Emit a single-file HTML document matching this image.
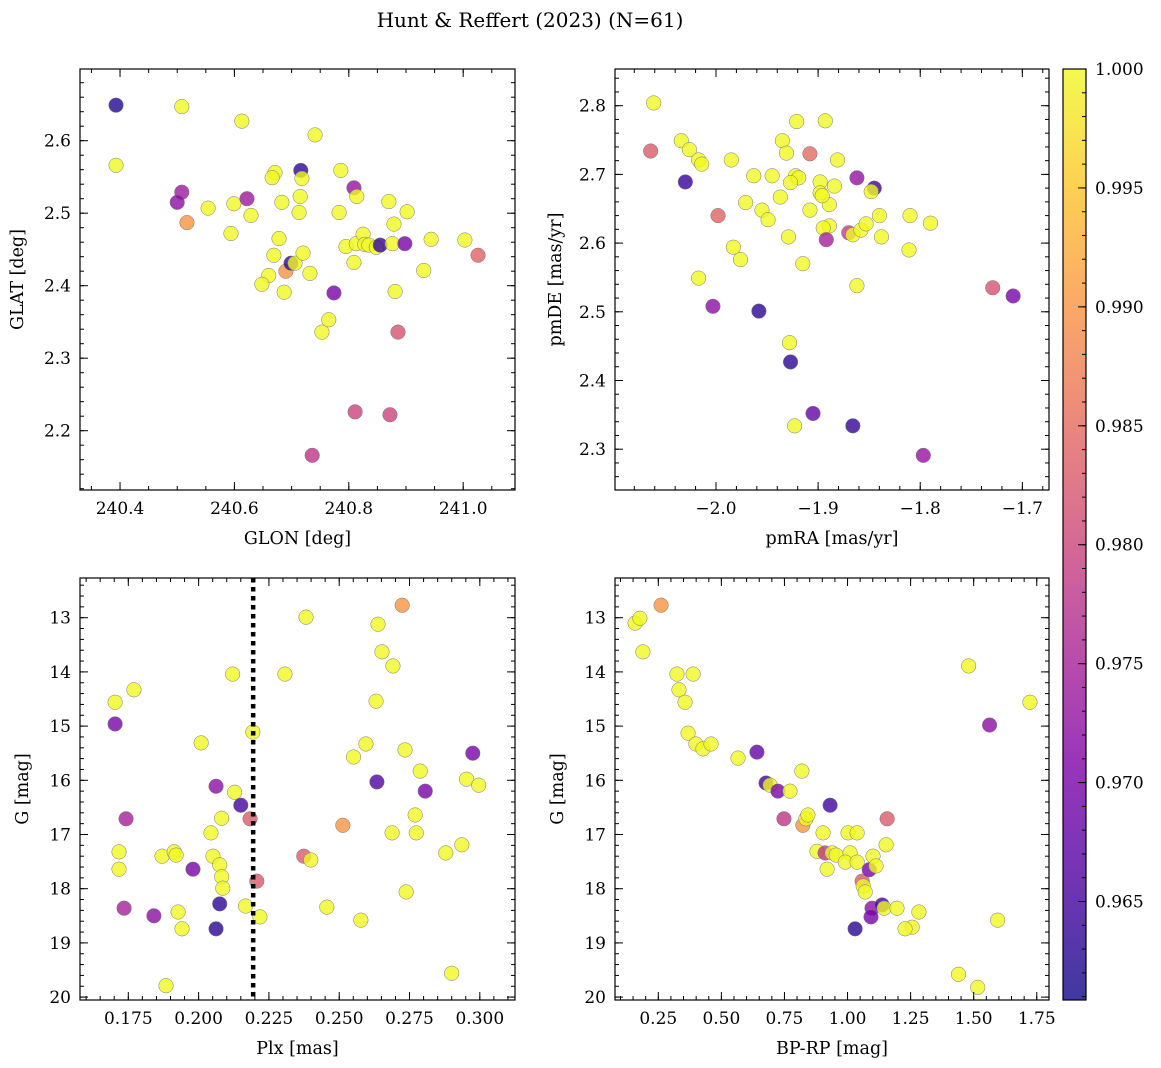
<!DOCTYPE html>
<html><head><meta charset="utf-8">
<style>
html,body{margin:0;padding:0;background:#fff;}
svg{display:block;font-family:"DejaVu Serif","Liberation Serif",serif;}
</style></head>
<body>
<svg id="fig" width="1161" height="1068" viewBox="0 0 1161 1068" xmlns="http://www.w3.org/2000/svg">
<defs>
<linearGradient id="cgrad" x1="0" y1="1" x2="0" y2="0">
<stop offset="0" stop-color="#0d0887"/><stop offset="0.125" stop-color="#4c02a1"/><stop offset="0.25" stop-color="#7e03a8"/><stop offset="0.375" stop-color="#a92395"/><stop offset="0.5" stop-color="#cc4778"/><stop offset="0.625" stop-color="#e66c5c"/><stop offset="0.75" stop-color="#f89540"/><stop offset="0.875" stop-color="#fdc527"/><stop offset="1" stop-color="#f0f921"/>
</linearGradient>
</defs>
<text x="530" y="27" font-size="20" text-anchor="middle">Hunt &amp; Reffert (2023) (N=61)</text>
</svg>
<script>
// ---- data (value arrays) ----
const p1Glon=[240.393,240.393,240.508,240.500,240.517,240.508,240.554,240.613,240.599,240.622,240.629,240.594,240.671,240.666,240.683,240.678,240.669,240.660,240.648,240.687,240.690,240.699,240.706,240.713,240.716,240.718,240.715,240.720,240.732,240.741,240.753,240.765,240.774,240.786,240.783,240.795,240.809,240.809,240.814,240.813,240.811,240.736,240.825,240.828,240.835,240.848,240.855,240.870,240.879,240.876,240.898,240.902,240.881,240.886,240.872,240.944,240.931,241.003,241.026];
const p1Glat=[2.649,2.566,2.529,2.515,2.487,2.647,2.507,2.627,2.513,2.520,2.497,2.472,2.556,2.549,2.515,2.465,2.442,2.414,2.402,2.391,2.420,2.431,2.431,2.501,2.559,2.548,2.523,2.445,2.417,2.608,2.336,2.353,2.390,2.559,2.501,2.454,2.432,2.535,2.523,2.458,2.226,2.166,2.471,2.457,2.456,2.453,2.456,2.516,2.485,2.458,2.458,2.502,2.392,2.336,2.222,2.464,2.421,2.463,2.442];
const p1Prob=[.9625,1,.974,.972,.990,1,1,1,1,.974,1,1,1,1,1,1,1,1,1,1,.990,.964,1,1,.963,1,1,1,1,1,1,1,.970,1,1,1,1,.973,1,1,.980,.978,1,1,1,1,.964,1,1,1,.970,1,1,.982,.980,1,1,1,.984];

const p2PmRA=[-2.061,-2.064,-2.034,-2.026,-2.017,-2.014,-2.030,-1.985,-1.963,-1.945,-1.935,-1.931,-1.908,-1.921,-1.893,-1.922,-1.919,-1.927,-1.881,-1.862,-1.845,-1.848,-1.898,-1.898,-1.884,-1.971,-1.955,-1.937,-1.949,-1.908,-1.889,-1.896,-1.889,-1.895,-1.892,-1.870,-1.866,-1.858,-1.853,-1.840,-1.838,-1.810,-1.811,-1.790,-1.998,-1.983,-1.976,-2.017,-1.915,-1.929,-1.862,-2.003,-1.958,-1.928,-1.927,-1.923,-1.905,-1.866,-1.797,-1.729,-1.709];
const p2PmDE=[2.804,2.734,2.749,2.736,2.721,2.715,2.689,2.721,2.698,2.698,2.749,2.731,2.730,2.777,2.778,2.698,2.695,2.688,2.721,2.695,2.680,2.675,2.689,2.673,2.683,2.659,2.648,2.667,2.634,2.648,2.656,2.669,2.625,2.622,2.605,2.615,2.612,2.619,2.628,2.640,2.609,2.640,2.590,2.629,2.640,2.594,2.576,2.549,2.570,2.609,2.538,2.508,2.501,2.455,2.427,2.334,2.352,2.334,2.291,2.535,2.523];
const p2Prob=[1,.983,1,1,1,1,.964,1,1,1,1,1,.985,1,1,1,1,1,1,.973,.965,1,1,1,1,1,1,1,1,1,1,1,1,1,.975,.979,1,1,1,1,1,1,1,1,.984,1,1,1,1,1,1,.972,.963,1,.963,1,.968,.964,.973,.982,.970];

const p3Plx=[.1703,.1770,.1703,.1742,.1717,.1717,.1735,.1841,.1870,.1913,.1920,.1927,.1941,.1884,.1980,.2009,.2062,.2044,.2051,.2075,.2082,.2086,.2082,.2075,.2062,.2121,.2128,.2150,.2167,.2183,.2193,.2207,.2218,.2307,.2382,.2374,.2399,.2456,.2551,.2513,.2577,.2595,.2631,.2638,.2652,.2634,.2691,.2688,.2734,.2738,.2788,.2770,.2774,.2806,.2724,.2879,.2936,.2953,.2996,.2975,.2900];
const p3G=[14.56,14.33,14.96,16.71,17.32,17.64,18.36,18.50,17.40,17.32,17.38,18.43,18.74,19.79,17.64,15.31,16.11,16.97,17.40,17.56,17.78,17.99,16.70,18.28,18.74,14.04,16.22,16.46,18.32,16.71,15.11,17.86,18.52,14.04,12.99,17.40,17.47,18.34,15.57,16.83,18.58,15.33,14.54,13.12,13.63,16.03,13.89,16.97,15.44,18.06,15.83,16.64,16.97,16.20,12.77,17.34,17.19,15.98,16.09,15.50,19.56];
const p3Prob=[1,1,.970,.975,1,1,.975,.972,1,1,1,1,1,1,.970,1,.972,1,1,1,1,1,1,.963,.963,1,1,.965,1,.983,1,.983,1,1,1,.983,1,1,1,.990,1,1,1,1,1,.966,1,1,1,1,1,1,1,.970,.990,1,1,1,1,.970,1];
const plxCut=[0.2194];

const p4Bprp=[.158,.177,.189,.261,.324,.332,.356,.388,.368,.399,.427,.459,.566,.641,.677,.693,.724,.772,.748,.819,.823,.835,.843,.879,.903,.911,.919,.931,.939,.955,1.002,1.010,.991,1.038,1.038,1.058,1.062,1.070,1.086,1.101,1.113,1.097,1.093,1.137,1.145,1.157,1.153,1.196,1.256,1.283,1.228,1.030,1.480,1.563,1.723,1.440,1.516,1.595];
const p4G=[13.10,13.01,13.63,12.77,14.04,14.33,14.56,14.04,15.13,15.33,15.42,15.33,15.59,15.48,16.05,16.09,16.20,16.20,16.71,15.83,16.83,16.71,16.64,17.31,16.97,17.34,17.64,16.46,17.34,17.38,16.97,17.34,17.51,16.97,17.51,17.86,17.95,18.06,17.65,17.40,17.58,18.36,18.52,18.30,18.36,16.71,17.19,18.36,18.71,18.43,18.74,18.74,13.89,14.98,14.56,19.58,19.82,18.58];
const p4Prob=[1,1,1,.990,1,1,1,1,1,1,1,1,1,.968,.965,1,.970,1,.978,1,.990,1,1,1,1,.978,1,.965,1,1,1,1,1,1,1,.983,1,1,.970,1,1,.972,.970,.965,1,.983,1,1,1,1,1,.963,1,.972,1,1,1,1];

const p1XTicks=[240.4,240.6,240.8,241.0];
const p1YTicks=[2.2,2.3,2.4,2.5,2.6];
const p2XTicks=[-2.0,-1.9,-1.8,-1.7];
const p2YTicks=[2.3,2.4,2.5,2.6,2.7,2.8];
const p3XTicks=[0.175,0.200,0.225,0.250,0.275,0.300];
const gTicks=[13,14,15,16,17,18,19,20];
const p4XTicks=[0.25,0.50,0.75,1.00,1.25,1.50,1.75];
const cbTicks=[0.965,0.970,0.975,0.980,0.985,0.990,0.995,1.000];
const cMin=0.96086, cMax=1.0;

// ---- rendering ----
const NS='http://www.w3.org/2000/svg';
const svg=document.getElementById('fig');
function mk(tag,attrs,parent){const e=document.createElementNS(NS,tag);for(const k in attrs)e.setAttribute(k,attrs[k]);(parent||svg).appendChild(e);return e;}
const stops=[[0,13,8,135],[.125,76,2,161],[.25,126,3,168],[.375,169,35,149],[.5,204,71,120],[.625,230,108,92],[.75,248,149,64],[.875,253,197,39],[1,240,249,33]];
function cmap(v){let t=(v-cMin)/(cMax-cMin);t=Math.max(0,Math.min(1,t));for(let i=1;i<stops.length;i++){if(t<=stops[i][0]){const a=stops[i-1],b=stops[i];const f=(t-a[0])/(b[0]-a[0]);return 'rgb('+[1,2,3].map(j=>Math.round(a[j]+(b[j]-a[j])*f)).join(',')+')';}}return 'rgb(240,249,33)';}
function fmt(v,d){const s=v.toFixed(d);return s.replace('-','\u2212');}

function panel(o){
  const g=mk('g',{});
  
  
  const sx=v=>o.x0+(v-o.xmin)/(o.xmax-o.xmin)*o.w;
  const sy=o.invert?(v=>o.y0+(v-o.ymin)/(o.ymax-o.ymin)*o.h):(v=>o.y0+o.h-(v-o.ymin)/(o.ymax-o.ymin)*o.h);
  const pts=mk('g',{},g);
  
  
  for(let i=0;i<o.xs.length;i++){
    const c=mk('circle',{cx:sx(o.xs[i]),cy:sy(o.ys[i]),r:7.3,fill:cmap(o.cs[i]),'fill-opacity':0.8,stroke:'#777','stroke-width':0.5},pts);
    
    
  }
  if(o.vline){
    const l=mk('line',{x1:sx(o.vline[0]),x2:sx(o.vline[0]),y1:o.y0,y2:o.y0+o.h,stroke:'#000','stroke-width':4.5,'stroke-dasharray':'4.5 4.5'},g);
    
    
  }
  const ax=mk('g',{stroke:'#000','stroke-width':1},g);
  
  
  // minor ticks
  const eps=1e-9;
  for(let v=Math.ceil(o.xmin/o.xminor-eps)*o.xminor;v<=o.xmax+eps;v+=o.xminor){const X=sx(v);mk('line',{x1:X,x2:X,y1:o.y0+o.h,y2:o.y0+o.h-4},ax);mk('line',{x1:X,x2:X,y1:o.y0,y2:o.y0+4},ax);}
  const lo=Math.min(o.ymin,o.ymax),hi=Math.max(o.ymin,o.ymax);
  for(let v=Math.ceil(lo/o.yminor-eps)*o.yminor;v<=hi+eps;v+=o.yminor){const Y=sy(v);mk('line',{x1:o.x0,x2:o.x0+4,y1:Y,y2:Y},ax);mk('line',{x1:o.x0+o.w,x2:o.x0+o.w-4,y1:Y,y2:Y},ax);}
  o.xticks.forEach(v=>{const X=sx(v);mk('line',{x1:X,x2:X,y1:o.y0+o.h,y2:o.y0+o.h-8},ax);mk('line',{x1:X,x2:X,y1:o.y0,y2:o.y0+8},ax);
    const t=mk('text',{x:X,y:o.y0+o.h+24,'font-size':17,'text-anchor':'middle'},g);t.textContent=fmt(v,o.xdec);
    
    });
  o.yticks.forEach(v=>{const Y=sy(v);mk('line',{x1:o.x0,x2:o.x0+8,y1:Y,y2:Y},ax);mk('line',{x1:o.x0+o.w,x2:o.x0+o.w-8,y1:Y,y2:Y},ax);
    const t=mk('text',{x:o.x0-9,y:Y+6,'font-size':17,'text-anchor':'end'},g);t.textContent=fmt(v,o.ydec);
    
    });
  mk('rect',{x:o.x0,y:o.y0,width:o.w,height:o.h,fill:'none',stroke:'#000','stroke-width':1.2},g);
  const xl=mk('text',{x:o.x0+o.w/2,y:o.y0+o.h+54,'font-size':17.5,'text-anchor':'middle'},g);xl.textContent=o.xlabel;
  
  
  const yx=o.x0-o.ylabOff, yy=o.y0+o.h/2;
  const yl=mk('text',{x:yx,y:yy,'font-size':17.5,'text-anchor':'middle',transform:'rotate(-90 '+yx+' '+yy+')'},g);yl.textContent=o.ylabel;
  
  
}

panel({name:'glon-glat-panel',x0:80,y0:69,w:435,h:421,xmin:240.330,xmax:241.0906,ymin:2.1182,ymax:2.6989,xs:p1Glon,ys:p1Glat,cs:p1Prob,xticks:p1XTicks,yticks:p1YTicks,xminor:0.05,yminor:0.02,xdec:1,ydec:1,xlabel:'GLON [deg]',ylabel:'GLAT [deg]',ylabOff:57});
panel({name:'proper-motion-panel',x0:615,y0:69,w:434,h:421,xmin:-2.0989,xmax:-1.6739,ymin:2.2406,ymax:2.8534,xs:p2PmRA,ys:p2PmDE,cs:p2Prob,xticks:p2XTicks,yticks:p2YTicks,xminor:0.02,yminor:0.02,xdec:1,ydec:1,xlabel:'pmRA [mas/yr]',ylabel:'pmDE [mas/yr]',ylabOff:54});
panel({name:'plx-g-panel',x0:80,y0:578,w:435,h:422,xmin:0.15782,xmax:0.31251,ymin:12.2675,ymax:20.0535,invert:true,xs:p3Plx,ys:p3G,cs:p3Prob,xticks:p3XTicks,yticks:gTicks,xminor:0.005,yminor:0.2,xdec:3,ydec:0,xlabel:'Plx [mas]',ylabel:'G [mag]',ylabOff:52,vline:plxCut});
panel({name:'cmd-panel',x0:615,y0:578,w:434,h:422,xmin:0.07838,xmax:1.7985,ymin:12.2675,ymax:20.0535,invert:true,xs:p4Bprp,ys:p4G,cs:p4Prob,xticks:p4XTicks,yticks:gTicks,xminor:0.05,yminor:0.2,xdec:2,ydec:0,xlabel:'BP-RP [mag]',ylabel:'G [mag]',ylabOff:52});

// colorbar
(function(){
  const x0=1063,w=23,y0=69,h=931;
  const g=mk('g',{});
  
  
  mk('rect',{x:x0,y:y0,width:w,height:h,fill:'url(#cgrad)','fill-opacity':0.8},g);
  const sy=v=>y0+h-(v-cMin)/(cMax-cMin)*h;
  for(let v=0.961;v<=1.0000001;v+=0.001){const Y=sy(v);mk('line',{x1:x0+w,x2:x0+w-4,y1:Y,y2:Y,stroke:'#000'},g);}
  cbTicks.forEach(v=>{const Y=sy(v);mk('line',{x1:x0+w,x2:x0+w-8,y1:Y,y2:Y,stroke:'#000'},g);
    const t=mk('text',{x:x0+w+9,y:Y+6,'font-size':17},g);t.textContent=v.toFixed(3);
    
    });
  mk('rect',{x:x0,y:y0,width:w,height:h,fill:'none',stroke:'#000','stroke-width':1.2},g);
})();
</script>
</body></html>
